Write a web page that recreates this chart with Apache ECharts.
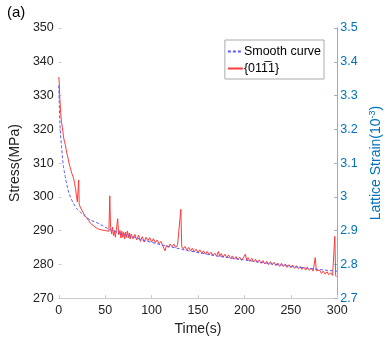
<!DOCTYPE html>
<html>
<head>
<meta charset="UTF-8">
<title></title>
<script src="https://cdn.jsdelivr.net/npm/echarts@6/dist/echarts.min.js"></script>
</head>
<body style="margin:0;background:#fff;">
<div id="chart" style="width:391px;height:341px;"></div>
<script>
// measured curve {01-11}: [time (s), stress (MPa)]
var redPoints = [
  [0, 335.5], [0.5, 334], [1, 330], [2, 325], [3, 322], [4, 320.5], [5, 318], [6, 316.5], [7, 315.5], [8, 314],
  [9, 312.5], [10, 311.5], [11, 310], [12, 309], [13, 308], [14, 307], [15, 306.5], [16, 305.5], [17, 304],
  [18, 302.5], [19, 300.5], [20, 298.5], [21, 298], [21.5, 305], [22, 298], [23, 297], [24, 296.5], [26, 295.5],
  [28, 294.5], [30, 293.8], [32, 293], [34, 292.2], [36, 292], [38, 291.3], [40, 290.8], [42, 290.5], [44, 290.3],
  [46, 290.2], [48, 290.6], [50, 290], [52, 290.4], [54, 289.8], [55, 300.3], [55.8, 291], [57, 289], [58, 291],
  [59, 288.5], [60, 290], [61, 288], [62, 290.2], [63.5, 293.5], [64.5, 288.8], [66, 290], [67, 287.8], [68, 289.8],
  [69, 288], [70, 289.5], [71, 287.5], [72, 289.6], [73, 288], [74, 289.9], [75, 287.8], [76, 289.3], [77, 287.5],
  [78, 289], [80, 287.6], [82, 288.9], [84, 287.2], [86, 288.6], [88, 286.8], [90, 288.2], [92, 286.6], [94, 288],
  [96, 287], [98, 287.9], [100, 286.6], [102, 287.6], [104, 286.4], [106, 287.2], [108, 286.1], [110, 286.8],
  [112, 285.5], [113, 285.8], [114.5, 284], [116, 285.6], [118, 285], [120, 286], [122, 285.2], [124, 286],
  [126, 285], [128, 285.7], [130, 285.2], [131.5, 296.3], [132.5, 285.2], [134, 284.6], [136, 285.3], [138, 284.2],
  [140, 285], [142, 284], [144, 284.8], [146, 283.7], [148, 284.5], [150, 283.5], [152, 284.3], [154, 283.3],
  [156, 284], [158, 283], [160, 283.8], [162, 282.8], [164, 283.6], [166, 282.6], [168, 283.3], [170, 282.4],
  [172, 283.8], [173.5, 282.3], [175, 283.2], [177, 282.1], [179, 283], [181, 281.9], [183, 282.8], [185, 281.7],
  [187, 282.5], [189, 281.5], [191, 282.3], [193, 281.3], [195, 282.1], [197, 281.2], [199, 282], [201, 283],
  [202.5, 281.2], [204, 282], [206, 280.9], [208, 281.8], [210, 280.7], [212, 281.5], [214, 280.5], [216, 281.3],
  [218, 280.3], [220, 281.1], [222, 280.1], [224, 280.9], [226, 279.9], [228, 280.8], [230, 279.9], [232, 280.6],
  [234, 279.6], [236, 280.4], [238, 279.4], [240, 280.3], [242, 279.3], [244, 280.1], [246, 279.1], [248, 279.9],
  [250, 279], [252, 279.8], [254, 278.8], [256, 279.6], [258, 278.7], [260, 279.4], [262, 278.5], [264, 279.2],
  [266, 278.3], [268, 279.1], [270, 278.2], [272, 278.9], [274, 278], [276.3, 282], [277.5, 278.1], [279, 277.6],
  [281, 278.3], [283, 277.3], [285, 278], [287, 277.1], [289, 277.8], [291, 276.9], [293, 277.5], [295, 276.7],
  [296.5, 277.2], [297.4, 288.3], [298.3, 276.8], [299, 276.3], [300, 277]
];
// smooth curve
var smoothTime = [0, 0.5, 1, 2, 3, 4, 5, 6, 7, 8, 10, 12, 14, 16, 18, 20, 23, 26, 30, 35, 40, 45, 50, 55, 60, 70, 80, 90,
  100, 110, 120, 130, 140, 150, 160, 170, 180, 190, 200, 210, 220, 230, 240, 250, 260, 270, 280, 290, 300];
var smoothStress = [333, 328, 323, 318, 315, 311.5, 309, 307.5, 306, 304.5, 302, 300.3, 299, 298, 297, 296.3, 295.5,
  294.8, 293.8, 293, 292.5, 291.8, 291, 290.3, 289.8, 288.8, 288.2, 287.2,
  286.5, 285.8, 285.2, 284.6, 284, 283.5, 283, 282.5, 282.1, 281.7, 281.3, 280.9, 280.5, 280.1, 279.8, 279.4, 279.1,
  278.8, 278.5, 278.2, 278];
var seriesNames = ['Smooth curve', '{01' + '1\u0305' + '1}'];

function pairs(xs, ys) {
  var out = [];
  for (var i = 0; i < xs.length; i++) out.push([xs[i], ys[i]]);
  return out;
}

var font = 'Liberation Sans, Arial, sans-serif';
var myChart = echarts.init(document.getElementById('chart'));
var option = {
  animation: false,
  textStyle: { fontFamily: font },
  grid: { left: 49, right: 48, top: 28, bottom: 36 },
  graphic: [{
    type: 'text', left: 7, top: 5,
    style: { text: '(a)', font: '15px ' + font, fill: '#000' }
  }],
  legend: {
    right: 67, top: 40,
    orient: 'vertical',
    itemWidth: 15, itemHeight: 8, itemGap: 4,
    padding: [5, 3, 4, 2],
    borderColor: '#aaa', borderWidth: 1,
    textStyle: { fontSize: 12.5, color: '#000', fontFamily: font, padding: [0, 0, 0, -4] },
    data: [
      { name: seriesNames[0], itemStyle: { opacity: 0 } },
      { name: seriesNames[1], itemStyle: { opacity: 0 } }
    ]
  },
  xAxis: {
    type: 'value', min: 0, max: 300, interval: 50,
    name: 'Time(s)', nameLocation: 'middle', nameGap: 22,
    nameTextStyle: { fontSize: 14, color: '#222' },
    axisLine: { show: true, lineStyle: { color: '#ccc' } },
    axisTick: { show: true, inside: true, length: 3, lineStyle: { color: '#ccc' } },
    axisLabel: { fontSize: 12.5, color: '#222', margin: 6 },
    splitLine: { show: false }
  },
  yAxis: [{
    type: 'value', min: 270, max: 350, interval: 10,
    name: 'Stress(MPa)', nameLocation: 'middle', nameGap: 28, nameRotate: 90,
    nameTextStyle: { fontSize: 14, color: '#222' },
    axisLine: { show: false },
    axisTick: { show: true, inside: true, length: 3, lineStyle: { color: '#ccc' } },
    axisLabel: { fontSize: 12.5, color: '#222', margin: 5 },
    splitLine: { show: false }
  }, {
    type: 'value', min: 27, max: 35, interval: 1, position: 'right',
    name: 'Lattice Strain(10{sup|-3})', nameLocation: 'middle', nameGap: 31, nameRotate: 90,
    nameTextStyle: {
      fontSize: 14, color: '#0072BD',
      rich: { sup: { fontSize: 9, color: '#0072BD', verticalAlign: 'top', padding: [0, 0, 6, 0] } }
    },
    axisLine: { show: true, lineStyle: { color: '#7fb4dc' } },
    axisTick: { show: true, inside: true, length: 3, lineStyle: { color: '#7fb4dc' } },
    axisLabel: { fontSize: 12.5, color: '#0072BD', margin: 3, formatter: function (v) { return String(v / 10); } },
    splitLine: { show: false }
  }],
  series: [{
    name: seriesNames[0], type: 'line', yAxisIndex: 0,
    symbol: 'none', z: 3,
    lineStyle: { color: '#5a5aff', width: 1, type: [3, 2] },
    itemStyle: { color: '#5a5aff' },
    data: pairs(smoothTime, smoothStress)
  }, {
    name: seriesNames[1], type: 'line', yAxisIndex: 0,
    symbol: 'none', z: 2,
    lineStyle: { color: '#ff3b3b', width: 1 },
    itemStyle: { color: '#ff3b3b' },
    data: redPoints
  }]
};
myChart.setOption(option);
</script>
</body>
</html>
